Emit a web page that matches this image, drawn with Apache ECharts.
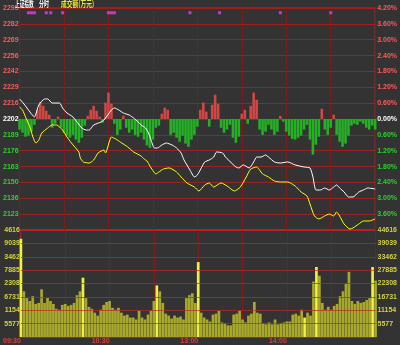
<!DOCTYPE html>
<html>
<head>
<meta charset="utf-8">
<script src="https://cdn.jsdelivr.net/npm/echarts@6/dist/echarts.min.js"></script>
<style>
  html, body { margin: 0; padding: 0; background: #333333; }
  #J_chartBox { width: 400px; height: 345px; }
</style>
</head>
<body>
<div id="J_chartBox"></div>
<script>
  // 昨收
  var basePrice = 2202.5
  var priceLabels = ['2110', '2123', '2136', '2150', '2163', '2176', '2189', '2202', '2216', '2229', '2242', '2256', '2269', '2282', '2295']
  var volMax = 44616
  var volStep = 5577

  // 分时 [分钟序号, 点位]
  var indexLine = [[0, 2219.2], [3, 2215.0], [7, 2208.3], [10, 2204.2], [13, 2214.2], [17, 2219.2], [19, 2219.2], [22, 2215.8], [27, 2215.8], [29, 2211.7],
    [32, 2207.5], [36, 2204.2], [42, 2195.0], [45, 2193.3], [47, 2193.3], [50, 2197.5], [55, 2200.0], [57, 2201.7], [62, 2210.0], [64, 2211.7],
    [67, 2210.0], [70, 2207.5], [74, 2205.8], [77, 2203.3], [80, 2200.0], [82, 2197.5], [85, 2195.0], [87, 2190.8], [89, 2184.0], [91, 2178.3],
    [93, 2178.3], [96, 2180.8], [99, 2182.5], [103, 2180.8], [106, 2178.3], [109, 2174.2], [111, 2168.3], [115, 2160.0], [118, 2154.2], [120, 2155.8],
    [123, 2162.5], [125, 2166.7], [128, 2168.3], [131, 2170.8], [133, 2175.0], [137, 2174.2], [139, 2170.8], [141, 2168.3], [146, 2162.5], [148, 2161.7],
    [151, 2164.2], [155, 2161.7], [158, 2166.7], [160, 2170.8], [163, 2170.8], [166, 2172.5], [168, 2170.8], [172, 2166.7], [176, 2165.8], [181, 2166.7],
    [186, 2164.2], [192, 2162.5], [196, 2161.7], [198, 2154.2], [200, 2143.3], [203, 2143.3], [206, 2145.0], [209, 2143.3], [212, 2145.8], [214, 2147.5],
    [216, 2145.0], [219, 2141.7], [222, 2137.5], [225, 2137.5], [229, 2141.7], [232, 2143.3], [235, 2145.0], [240, 2144.2]]

  // 领先指标
  var leadLine = [[0, 2212.5], [2, 2210.0], [4, 2204.2], [7, 2195.8], [9, 2187.5], [11, 2182.5], [13, 2185.0], [15, 2190.8], [19, 2195.0], [22, 2197.5],
    [25, 2197.5], [29, 2193.3], [32, 2187.5], [35, 2182.5], [40, 2175.0], [41, 2170.0], [43, 2166.7], [47, 2165.8], [50, 2168.3], [53, 2174.2],
    [57, 2176.7], [58, 2174.2], [62, 2187.5], [65, 2185.8], [68, 2183.3], [73, 2179.2], [77, 2175.0], [82, 2171.7], [84, 2169.2], [86, 2167.5],
    [88, 2163.3], [92, 2156.7], [94, 2158.3], [97, 2160.8], [101, 2161.7], [106, 2158.3], [109, 2154.2], [113, 2149.2], [118, 2145.8], [121, 2142.5],
    [125, 2147.5], [128, 2149.2], [131, 2145.8], [136, 2149.2], [140, 2146.7], [145, 2142.5], [149, 2145.8], [153, 2154.2], [156, 2160.8], [160, 2162.5],
    [162, 2160.0], [164, 2156.7], [168, 2154.2], [172, 2150.8], [176, 2150.0], [181, 2150.0], [186, 2146.7], [190, 2141.7], [194, 2138.3], [196, 2131.7],
    [199, 2121.7], [202, 2119.2], [206, 2121.7], [209, 2123.3], [212, 2121.7], [214, 2125.0], [216, 2121.7], [219, 2115.0], [223, 2110.8], [225, 2111.7],
    [229, 2115.0], [232, 2117.5], [236, 2117.5], [240, 2119.2]]

  // 红绿柱 (每2分钟, %)
  var strength = [-0.4, -0.52, -0.67, -0.63, -0.48, -0.22, 0.35, 0.65, 0.5, 0.31,
    0.16, -0.33, -0.18, 0.09, -0.33, -0.52, -0.63, -0.71, -0.6, -0.78,
    -0.9, -0.71, -0.25, 0.12, 0.35, 0.5, 0.31, 0.09, -0.14, 0.62,
    1.0, 0.58, -0.18, -0.6, -0.4, 0.12, -0.33, -0.52, -0.4, -0.6,
    -0.67, -0.52, -0.78, -1.0, -1.09, -0.78, -0.33, -0.25, 0.2, 0.43,
    0.35, -0.6, -0.52, -0.71, -0.86, -0.63, -0.93, -1.05, -0.78, -0.6,
    -0.29, 0.35, 0.62, 0.28, -0.29, 0.54, 0.92, 0.58, -0.33, -0.52,
    -0.4, -0.22, -0.71, -0.9, -0.67, 0.2, 0.35, -0.18, 0.5, 1.0,
    0.73, -0.4, -0.6, -0.48, -0.22, -0.4, -0.6, -0.48, 0.12, -0.1,
    -0.48, -0.63, -0.75, -0.78, -0.71, -0.63, -0.4, -0.22, -0.78, -1.35,
    -0.97, -0.67, 0.39, -0.4, -0.6, -0.33, 0.16, -0.6, -0.86, -1.05,
    -0.93, -0.63, -0.25, -0.18, -0.22, -0.1, -0.18, -0.33, -0.4, -0.25,
    -0.4]

  // 成交额 (每2分钟, 万元)
  var volume = [40970, 19060, 16220, 15010, 17030, 13790, 14200, 19870, 14200, 16220,
    15010, 13790, 11760, 11360, 13380, 13790, 12980, 13380, 14200, 17440,
    19060, 24740, 16220, 12570, 11760, 10140, 8920, 11360, 13380, 14600,
    15010, 12170, 11360, 12170, 10140, 8920, 9330, 8110, 8110, 7300,
    10950, 8110, 7300, 9330, 10950, 15010, 21500, 19060, 14200, 9730,
    8920, 7710, 8920, 8110, 8520, 7300, 16220, 17440, 18250, 14200,
    31230, 10140, 8110, 7300, 6490, 9330, 9730, 10950, 6080, 5680,
    4870, 4870, 9330, 9730, 10950, 7300, 6080, 8920, 9730, 14600,
    10140, 9730, 5680, 5270, 6080, 5270, 7300, 5270, 5680, 6080,
    6490, 6490, 9330, 9730, 8920, 11360, 8110, 10140, 8920, 23120,
    29200, 25550, 14200, 11360, 12570, 11360, 12980, 13790, 17030, 19060,
    22310, 27170, 15010, 13790, 15010, 14200, 14600, 15410, 16220, 29200,
    23520]
  var brightBars = [0, 21, 46, 60, 96, 100, 119]

  // 信息地雷
  var markerMinutes = [6, 8, 10, 18, 21, 29, 60, 62, 64, 115, 135, 176, 210]

  function pad (n) { return n < 10 ? '0' + n : '' + n }
  function hhmm (t) { return pad(Math.floor(t / 60)) + ':' + pad(t % 60) }
  var times = []
  for (var m = 0; m < 120; m++) times.push(hhmm(9 * 60 + 30 + m))
  for (var k = 0; k <= 120; k++) times.push(hhmm(13 * 60 + k))
  var timeLabelIdx = [0, 60, 120, 180]

  function toPct (p) { return (p / basePrice - 1) * 100 }
  function signColor (v) {
    v = parseFloat(v)
    if (Math.abs(v) < 0.001) return '#ffffff'
    return v > 0 ? '#ff5a5a' : '#2ed02e'
  }

  var labelFont = { fontSize: 7, fontFamily: 'Liberation Sans', fontWeight: 'bold' }
  var gridLine = '#a01f1f'
  var vLine = '#7c1c1c'

  var xCommon = {
    type: 'category',
    data: times,
    boundaryGap: false,
    axisLine: { show: false },
    axisTick: { show: false },
    splitLine: { show: true, interval: function (i) { return i % 30 === 0 }, lineStyle: { color: vLine, width: 1 } }
  }

  var option = {
    backgroundColor: '#333333',
    animation: false,
    graphic: [
      { type: 'text', x: 15, y: 0, scaleX: 0.58, style: { text: '上证指数', fill: '#ffffff', font: 'bold 8px "Noto Sans CJK SC"' } },
      { type: 'text', x: 39, y: 0, scaleX: 0.62, style: { text: '分时', fill: '#ffffff', font: 'bold 8px "Noto Sans CJK SC"' } },
      { type: 'text', x: 61, y: 0, scaleX: 0.72, style: { text: '成交额(万元)', fill: '#e8e830', font: 'bold 8px "Noto Sans CJK SC"' } }
    ],
    grid: [
      { left: 17, right: 21, top: 8, height: 222, show: true, borderColor: '#c82222', borderWidth: 1 },
      { left: 17, right: 21, top: 230, height: 110, show: true, borderColor: '#d82222', borderWidth: 1 }
    ],
    xAxis: [
      Object.assign({}, xCommon, { gridIndex: 0, axisLabel: { show: false } }),
      Object.assign({}, xCommon, {
        gridIndex: 1,
        axisLabel: Object.assign({
          show: true,
          color: '#e03c3c',
          align: 'right',
          margin: 1,
          interval: function (i) { return timeLabelIdx.indexOf(i) >= 0 }
        }, labelFont)
      })
    ],
    yAxis: [
      {
        gridIndex: 0, type: 'value', min: -4.2, max: 4.2, interval: 0.6, position: 'left',
        axisLine: { show: false }, axisTick: { show: false },
        splitLine: { lineStyle: { color: gridLine, width: 1 } },
        axisLabel: Object.assign({
          margin: 1, showMinLabel: false,
          formatter: function (v) { return priceLabels[Math.round((v + 4.2) / 0.6)] },
          color: signColor
        }, labelFont)
      },
      {
        gridIndex: 0, type: 'value', min: -4.2, max: 4.2, interval: 0.6, position: 'right',
        axisLine: { show: false }, axisTick: { show: false }, splitLine: { show: false },
        axisLabel: Object.assign({
          margin: 2, showMinLabel: false,
          formatter: function (v) { return Math.abs(v).toFixed(2) + '%' },
          color: signColor
        }, labelFont)
      },
      {
        gridIndex: 1, type: 'value', min: 0, max: volMax, interval: volStep, position: 'left', z: 3,
        axisLine: { show: false }, axisTick: { show: false },
        splitLine: { lineStyle: { color: 'rgba(200, 34, 34, 0.7)', width: 1 } },
        axisLabel: Object.assign({
          margin: 1, showMinLabel: false, color: '#d2d23a',
          formatter: function (v) { return String(v).slice(-4) }
        }, labelFont)
      },
      {
        gridIndex: 1, type: 'value', min: 0, max: volMax, interval: volStep, position: 'right',
        axisLine: { show: false }, axisTick: { show: false }, splitLine: { show: false },
        axisLabel: Object.assign({
          margin: 2, showMinLabel: false, color: '#d2d23a',
          formatter: function (v) { return String(v) }
        }, labelFont)
      }
    ],
    series: [
      {
        name: '红绿柱',
        type: 'bar',
        xAxisIndex: 0,
        yAxisIndex: 0,
        barWidth: 2.6,
        data: strength.map(function (v, i) {
          return { value: [i * 2, v], itemStyle: { color: v >= 0 ? '#d24646' : '#26b026' } }
        })
      },
      {
        name: '领先',
        type: 'line',
        xAxisIndex: 0,
        yAxisIndex: 0,
        symbol: 'none',
        smooth: 0.2,
        lineStyle: { color: '#ffff00', width: 1 },
        data: leadLine.map(function (p) { return [p[0], toPct(p[1])] })
      },
      {
        name: '上证指数',
        type: 'line',
        xAxisIndex: 0,
        yAxisIndex: 0,
        symbol: 'none',
        smooth: 0.2,
        lineStyle: { color: '#ffffff', width: 1 },
        data: indexLine.map(function (p) { return [p[0], toPct(p[1])] })
      },
      {
        name: '地雷',
        type: 'scatter',
        xAxisIndex: 0,
        yAxisIndex: 0,
        symbol: 'rect',
        symbolSize: [3, 3],
        itemStyle: { color: '#ff30ff' },
        data: markerMinutes.map(function (t) { return [t, 4.02] })
      },
      {
        name: '成交额',
        type: 'bar',
        xAxisIndex: 1,
        yAxisIndex: 2,
        barWidth: 2.7,
        data: volume.map(function (v, i) {
          return { value: [i * 2, v], itemStyle: { color: brightBars.indexOf(i) >= 0 ? '#f0f040' : '#a8a82c' } }
        })
      }
    ]
  }

  var chart = echarts.init(document.getElementById('J_chartBox'))
  chart.setOption(option)
  window.addEventListener('resize', function () {
    chart.resize()
  })
</script>
</body>
</html>
